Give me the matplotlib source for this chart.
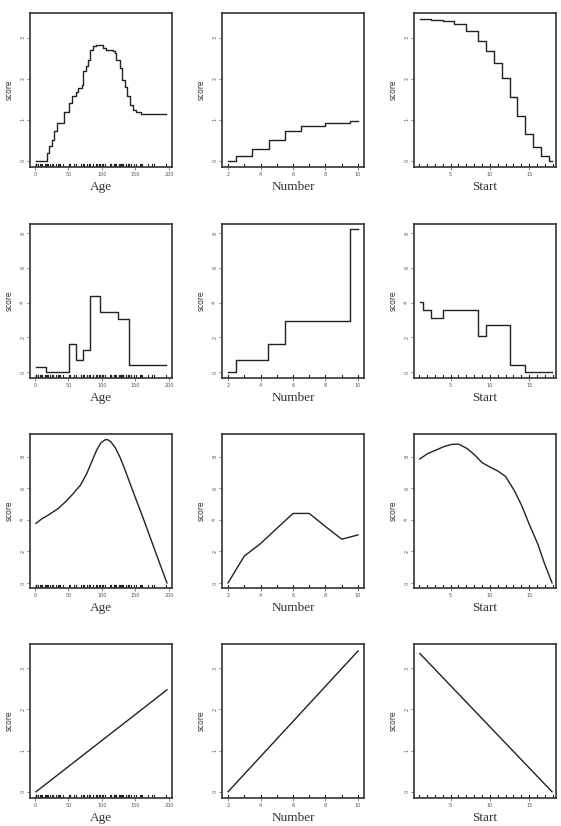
import matplotlib
matplotlib.use("Agg")
import matplotlib.pyplot as plt
import matplotlib.transforms as mtransforms
import numpy as np

# rug values (kyphosis data)
age_rug = [71, 158, 128, 2, 1, 1, 61, 37, 113, 59, 82, 148, 18, 1, 168, 1, 78, 175, 80, 27,
           22, 105, 96, 131, 15, 9, 8, 100, 4, 151, 31, 125, 130, 112, 140, 93, 1, 52, 20, 91,
           73, 35, 143, 61, 97, 139, 136, 131, 121, 177, 68, 9, 139, 2, 140, 72, 2, 120, 51, 102,
           130, 114, 81, 118, 118, 17, 195, 159, 18, 15, 158, 127, 87, 206, 11, 178, 157, 26, 120, 42, 36]
number_rug = [2, 3, 4, 5, 6, 7, 8, 9, 10]
start_rug = list(range(1, 19))

# row 1: fine step functions (edges, values)
r1_age_x = [1.5, 17.4, 21.3, 24.8, 28.3, 32.3, 35.7, 43.7, 50.6, 54.6, 61, 64.5, 69.5, 72, 75.9,
            79.4, 81.9, 86.8, 91.8, 96.8, 101.7, 106.7, 116.6, 119.1, 121.6, 126.6, 130.5, 134,
            137.5, 141.4, 146.4, 151.4, 158.8, 196]
r1_age_y = [0, 0.19, 0.35, 0.51, 0.72, 0.93, 0.93, 1.19, 1.41, 1.59, 1.67, 1.77, 1.85, 2.18, 2.32,
            2.46, 2.71, 2.79, 2.81, 2.83, 2.75, 2.69, 2.67, 2.63, 2.46, 2.26, 1.98, 1.81, 1.57,
            1.37, 1.24, 1.20, 1.15]
r1_num_x = [2, 2.5, 3.5, 4.5, 5.5, 6.5, 8, 9.5, 10]
r1_num_y = [0, 0.12, 0.30, 0.51, 0.72, 0.86, 0.93, 0.97]
r1_start_x = [1.1, 2.5, 4, 5.5, 7, 8.5, 9.5, 10.5, 11.5, 12.5, 13.5, 14.5, 15.5, 16.5, 17.5, 17.9]
r1_start_y = [3.46, 3.44, 3.41, 3.33, 3.15, 2.93, 2.68, 2.38, 2.01, 1.55, 1.08, 0.65, 0.33, 0.11, 0.0]

# row 2: coarse step functions
r2_age_x = [1.5, 16.4, 51.1, 61, 72, 81.9, 96.8, 124, 140.4, 196]
r2_age_y = [0.29, 0, 1.64, 0.73, 1.26, 4.41, 3.48, 3.05, 0.39]
r2_num_x = [2, 2.49, 4.48, 5.49, 9.49, 10]
r2_num_y = [0, 0.73, 1.6, 2.96, 8.21]
r2_start_x = [1.1, 1.5, 2.5, 4, 8.5, 9.5, 12.5, 14.5, 17.9]
r2_start_y = [4.06, 3.57, 3.09, 3.59, 2.09, 2.72, 0.44, 0]

# row 3: smooth curves
r3_age_x = [1.5, 10, 20, 35, 47, 57, 68, 77, 85, 92, 98, 104, 108, 113, 120, 127, 134,
            146, 160, 175, 190, 197]
r3_age_y = [3.77, 4.05, 4.3, 4.72, 5.2, 5.65, 6.2, 6.9, 7.7, 8.4, 8.85, 9.05, 9.08, 8.95,
            8.55, 7.95, 7.2, 5.83, 4.27, 2.53, 0.79, 0]
r3_num_x = [2, 3, 4, 5, 6, 7, 8, 9, 10]
r3_num_y = [0, 1.70, 2.49, 3.45, 4.40, 4.40, 3.57, 2.77, 3.04]
r3_start_x = [1.1, 2.1, 3.1, 4.1, 5.1, 6.05, 7.1, 8.1, 9.0, 10, 11, 12, 13.1, 14, 15, 16.1, 16.9, 17.9]
r3_start_y = [7.85, 8.19, 8.40, 8.62, 8.77, 8.79, 8.51, 8.09, 7.62, 7.34, 7.09, 6.74, 5.85, 4.94,
              3.72, 2.45, 1.28, 0]

# row 4: linear fits
r4_age_x = [1.5, 197]
r4_age_y = [0, 2.47]
r4_num_x = [2, 10]
r4_num_y = [0, 3.41]
r4_start_x = [1.1, 17.9]
r4_start_y = [3.35, 0]

xlabels = ["Age", "Number", "Start"]
xlims = [(-7.4, 204.5), (1.63, 10.37), (0.36, 18.4)]
xticks = [[0, 50, 100, 150, 200], [2, 4, 6, 8, 10], [5, 10, 15]]
rugs = [age_rug, number_rug, start_rug]
row_ylims = [(-0.15, 3.6), (-0.33, 8.52), (-0.32, 9.43), (-0.15, 3.58)]
row_yticks = [[0, 1, 2, 3], [0, 2, 4, 6, 8], [0, 2, 4, 6, 8], [0, 1, 2, 3]]

rows = [
    [("step", r1_age_x, r1_age_y), ("step", r1_num_x, r1_num_y), ("step", r1_start_x, r1_start_y)],
    [("step", r2_age_x, r2_age_y), ("step", r2_num_x, r2_num_y), ("step", r2_start_x, r2_start_y)],
    [("line", r3_age_x, r3_age_y), ("line", r3_num_x, r3_num_y), ("line", r3_start_x, r3_start_y)],
    [("line", r4_age_x, r4_age_y), ("line", r4_num_x, r4_num_y), ("line", r4_start_x, r4_start_y)],
]

W, H = 561, 826
fig = plt.figure(figsize=(W / 100, H / 100), dpi=100)
fig.patch.set_facecolor("white")

col_left = [30, 222, 414]
row_top = [13, 224, 434, 644]
aw, ah = 142, 154

for i, row in enumerate(rows):
    for j, (kind, xs, ys) in enumerate(row):
        ax = fig.add_axes([col_left[j] / W, 1 - (row_top[i] + ah) / H, aw / W, ah / H])
        if kind == "step":
            ax.step(xs, list(ys) + [ys[-1]], where="post", color="#222222", lw=1.0)
        else:
            ax.plot(xs, ys, color="#222222", lw=1.0)
        # rug along the bottom
        trans = mtransforms.blended_transform_factory(ax.transData, ax.transAxes)
        for v in rugs[j]:
            ax.plot([v, v], [0, 0.02], color="#222222", lw=0.8, transform=trans)
        ax.set_xlim(*xlims[j])
        ax.set_ylim(*row_ylims[i])
        ax.set_xticks(xticks[j])
        ax.set_yticks(row_yticks[i])
        ax.tick_params(axis="both", direction="out", length=2, width=0.5,
                       labelsize=3.5, colors="#555555", pad=1.5)
        for lab in ax.get_yticklabels():
            lab.set_rotation(90)
            lab.set_va("center")
        for sp in ax.spines.values():
            sp.set_linewidth(1.2)
            sp.set_color("#333333")
        ax.set_xlabel(xlabels[j], family="Liberation Serif", fontsize=9.5, color="#333333", labelpad=3)
        ax.set_ylabel("score", fontsize=5.5, color="#333333", labelpad=5)

fig.savefig("out.png", dpi=100, facecolor="white")
